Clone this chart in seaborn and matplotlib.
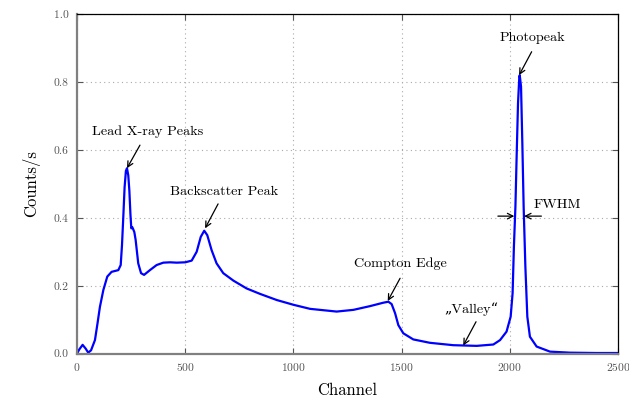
import matplotlib
matplotlib.use("Agg")
import matplotlib.pyplot as plt
import seaborn as sns
import pandas as pd

channel = [0, 10, 26, 40, 52, 65, 83, 95, 106, 122, 140, 160, 191, 202, 208, 214, 220, 226, 231,
           237, 242, 247, 251, 256, 260, 265, 271, 283, 296, 310, 337, 368, 399, 430, 461, 500,
           530, 553, 572, 588, 602, 622, 645, 676, 723, 784, 846, 923, 1000, 1077, 1123, 1200,
           1277, 1354, 1415, 1439, 1454, 1470, 1485, 1508, 1554, 1631, 1739, 1847, 1924, 1955,
           1985, 2004, 2013, 2019, 2026, 2032, 2038, 2044, 2046, 2052, 2058, 2064, 2072, 2081,
           2093, 2124, 2186, 2278, 2400, 2500]
counts = [0.0, 0.012, 0.026, 0.015, 0.003, 0.010, 0.040, 0.090, 0.138, 0.188, 0.227, 0.241,
          0.246, 0.261, 0.320, 0.403, 0.490, 0.538, 0.546, 0.525, 0.480, 0.410, 0.369, 0.372,
          0.366, 0.358, 0.335, 0.266, 0.237, 0.232, 0.246, 0.261, 0.268, 0.269, 0.268, 0.269,
          0.274, 0.300, 0.344, 0.362, 0.349, 0.305, 0.266, 0.237, 0.215, 0.192, 0.176, 0.158,
          0.144, 0.132, 0.129, 0.124, 0.129, 0.140, 0.150, 0.153, 0.146, 0.119, 0.084, 0.060,
          0.042, 0.032, 0.025, 0.023, 0.027, 0.040, 0.065, 0.109, 0.178, 0.315, 0.433, 0.590,
          0.737, 0.815, 0.820, 0.786, 0.619, 0.433, 0.256, 0.109, 0.050, 0.021, 0.006, 0.003,
          0.002, 0.002]

x_ticks = [0, 500, 1000, 1500, 2000, 2500]
y_ticks = [0.0, 0.2, 0.4, 0.6, 0.8, 1.0]

# annotations: label, text centre, arrow tail, arrow tip
ann_labels = ["Lead X-ray Peaks", "Backscatter Peak", "Compton Edge", "\u201eValley\u201c", "Photopeak"]
ann_texts = [(328, 0.653), (680, 0.477), (1493, 0.266), (1824, 0.132), (2104, 0.930)]
ann_tails = [(291, 0.614), (652, 0.441), (1493, 0.222), (1844, 0.094), (2101, 0.889)]
ann_tips = [(231, 0.546), (592, 0.369), (1436, 0.155), (1785, 0.024), (2043, 0.820)]

sns.set_style("ticks")
plt.rcParams['font.family'] = ['cmr10', 'DejaVu Serif']
plt.rcParams['axes.formatter.use_mathtext'] = True
plt.rcParams['mathtext.fontset'] = 'cm'
plt.rcParams['text.color'] = 'black'
plt.rcParams['axes.labelcolor'] = 'black'

df = pd.DataFrame({"Channel": channel, "Counts/s": counts})

fig = plt.figure(figsize=(6.29, 4.01), dpi=100)
ax = fig.add_axes([0.1224, 0.118, 0.8601, 0.847])
sns.lineplot(data=df, x="Channel", y="Counts/s", ax=ax, color="#0000ff", lw=1.6)

ax.set_xlim(0, 2500)
ax.set_ylim(0, 1.0)
ax.set_xticks(x_ticks)
ax.set_yticks(y_ticks)
ax.set_yticklabels([f"{v:.1f}" for v in y_ticks])
ax.grid(True, linestyle=(0, (1, 3)), color="#aaaaaa", lw=0.8)
ax.tick_params(direction="in", length=4, top=True, right=True, labelsize=8.3,
               labelcolor="#555555", color="#555555")
ax.tick_params(axis="x", pad=5)
ax.tick_params(axis="y", pad=6)
for s in ["left", "bottom"]:
    ax.spines[s].set_color("#808080")
    ax.spines[s].set_linewidth(1.6)
for s in ["top", "right"]:
    ax.spines[s].set_color("black")
    ax.spines[s].set_linewidth(0.9)

ax.set_xlabel("Channel", fontsize=12, labelpad=7, color="black")
ax.set_ylabel("Counts/s", fontsize=12, labelpad=10, color="black")

for lab, txt, tail, tip in zip(ann_labels, ann_texts, ann_tails, ann_tips):
    ax.text(txt[0], txt[1], lab, ha="center", va="center", fontsize=10.2, color="black")
    ax.annotate("", xy=tip, xytext=tail,
                arrowprops=dict(arrowstyle="->", color="black", lw=0.9,
                                shrinkA=0, shrinkB=0))

# FWHM arrows
ax.annotate("", xy=(2021, 0.405), xytext=(1945, 0.405),
            arrowprops=dict(arrowstyle="->", color="black", lw=0.9, shrinkA=0, shrinkB=0))
ax.annotate("", xy=(2066, 0.405), xytext=(2146, 0.405),
            arrowprops=dict(arrowstyle="->", color="black", lw=0.9, shrinkA=0, shrinkB=0))
ax.text(2110, 0.437, "FWHM", ha="left", va="center", fontsize=10.2, color="black")

fig.savefig("out.png", dpi=100)
